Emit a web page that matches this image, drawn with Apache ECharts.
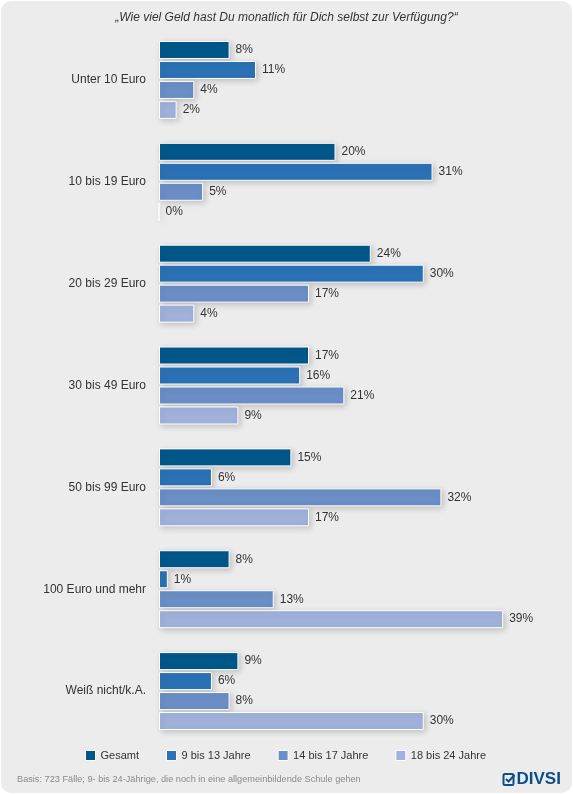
<!DOCTYPE html>
<html>
<head>
<meta charset="utf-8">
<script src="https://cdn.jsdelivr.net/npm/echarts@6/dist/echarts.min.js"></script>
<style>
html, body { margin: 0; padding: 0; background: #fff; }
#main { width: 573px; height: 794px; }
</style>
</head>
<body>
<div id="main"></div>
<script>
// Kategorien und Werte (in %)
var categories = ['Unter 10 Euro', '10 bis 19 Euro', '20 bis 29 Euro', '30 bis 49 Euro',
    '50 bis 99 Euro', '100 Euro und mehr', 'Weiß nicht/k.A.'];
var seriesNames = ['Gesamt', '9 bis 13 Jahre', '14 bis 17 Jahre', '18 bis 24 Jahre'];
var gesamt = [8, 20, 24, 17, 15, 8, 9];
var jahre9bis13 = [11, 31, 30, 16, 6, 1, 6];
var jahre14bis17 = [4, 5, 17, 21, 32, 13, 8];
var jahre18bis24 = [2, 0, 4, 9, 17, 39, 30];
var colors = ['#00578a', '#2a72b5', '#6b8ec6', '#a0b2db'];

var values = [gesamt, jahre9bis13, jahre14bis17, jahre18bis24];

function makeSeries(i) {
    return {
        name: seriesNames[i],
        type: 'bar',
        data: values[i],
        barWidth: 18,
        barGap: '11%',
        itemStyle: {
            color: colors[i],
            borderColor: '#fff',
            borderWidth: 1,
            shadowBlur: 6,
            shadowColor: 'rgba(0,0,0,0.18)',
            shadowOffsetX: 2,
            shadowOffsetY: 2
        },
        label: {
            show: true,
            position: 'right',
            distance: 6,
            formatter: '{c}%',
            color: '#333',
            fontSize: 12,
            fontFamily: 'Liberation Sans, Arial, sans-serif'
        }
    }
}

var myChart = echarts.init(document.getElementById('main'));
var option = {
    animation: false,
    textStyle: { fontFamily: 'Liberation Sans, Arial, sans-serif' },
    graphic: [{
        type: 'rect',
        z: -10,
        shape: { x: 1, y: 1, width: 571, height: 792, r: 10 },
        style: { fill: '#ececec' }
    }, {
        type: 'text',
        left: 'center',
        top: 12,
        style: {
            text: '„Wie viel Geld hast Du monatlich für Dich selbst zur Verfügung?“',
            font: 'italic 12px Liberation Sans, Arial, sans-serif',
            fill: '#333'
        }
    }, {
        type: 'text',
        left: 17,
        top: 775,
        style: {
            text: 'Basis: 723 Fälle; 9- bis 24-Jährige, die noch in eine allgemeinbildende Schule gehen',
            font: '9.2px Liberation Sans, Arial, sans-serif',
            fill: '#8a8a8a'
        }
    }, {
        // DIVSI Logo
        type: 'group',
        left: 501,
        top: 771,
        children: [{
            type: 'rect',
            shape: { x: 1, y: 2, width: 10, height: 11, r: 1.5 },
            style: { fill: 'none', stroke: '#0b4e8c', lineWidth: 2 }
        }, {
            type: 'polyline',
            shape: { points: [[3.5, 7], [6, 9.5], [12, 3]] },
            style: { fill: 'none', stroke: '#0b4e8c', lineWidth: 2 }
        }, {
            type: 'text',
            x: 14,
            y: -1,
            style: {
                text: 'DIVSI',
                font: 'bold 17px Liberation Sans, Arial, sans-serif',
                fill: '#0b4e8c'
            }
        }]
    }],
    legend: {
        data: seriesNames,
        left: 80,
        top: 745,
        icon: 'rect',
        itemWidth: 10,
        itemHeight: 10,
        itemGap: 27,
        itemStyle: { borderColor: '#fff', borderWidth: 1 },
        textStyle: { fontSize: 11, color: '#333' }
    },
    grid: {
        left: 159,
        right: 61,
        top: 29,
        bottom: 52,
        containLabel: false
    },
    xAxis: {
        type: 'value',
        min: 0,
        max: 40,
        show: false
    },
    yAxis: {
        type: 'category',
        data: categories,
        inverse: true,
        axisLine: { show: false },
        axisTick: { show: false },
        axisLabel: {
            margin: 13,
            fontSize: 12,
            color: '#333'
        }
    },
    series: [makeSeries(0), makeSeries(1), makeSeries(2), makeSeries(3)]
};

myChart.setOption(option);
</script>
</body>
</html>
